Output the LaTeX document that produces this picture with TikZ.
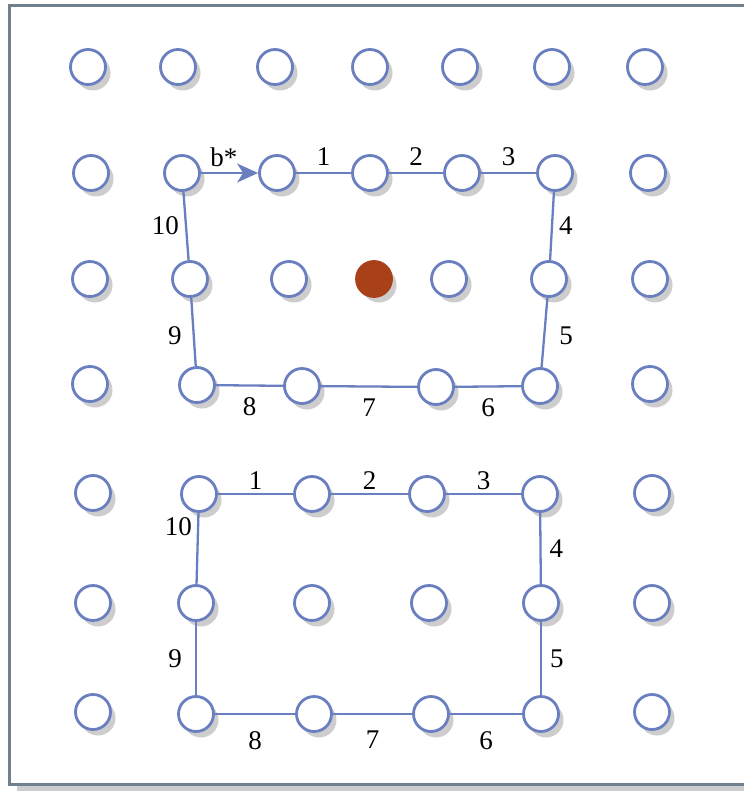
\documentclass[tikz,border=0pt]{standalone}
\usepackage{fontspec}
\setmainfont{Liberation Serif}
\usepackage{tikz}
\usetikzlibrary{arrows.meta, positioning, shadows}

\definecolor{dotblue}{RGB}{106,127,192}
\definecolor{dotred}{RGB}{168,64,24}
\definecolor{shadegray}{RGB}{205,205,205}
\definecolor{framegray}{RGB}{112,128,140}

\begin{document}
\begin{tikzpicture}[
    x=1pt, y=-1pt,
    dot/.style={circle, draw=dotblue, line width=2.8pt, fill=white, minimum size=35pt, inner sep=0pt,
        drop shadow={shadow xshift=5pt, shadow yshift=-6pt, fill=shadegray, opacity=1}},
    hotdot/.style={dot, draw=dotred, fill=dotred},
    link/.style={draw=dotblue, line width=2.3pt},
    lbl/.style={font=\fontsize{27}{31}\selectfont, inner sep=1pt}
]
\useasboundingbox (0,0) rectangle (743,791);
% frame
\fill[shadegray] (17,13) rectangle (775,800);
\draw[framegray, line width=3pt, fill=white] (9,5.5) rectangle (770,784);

% upper grid
\node[dot] (a1) at (88,67) {};
\node[dot] (a2) at (178,67) {};
\node[dot] (a3) at (275,67) {};
\node[dot] (a4) at (370,67) {};
\node[dot] (a5) at (460,67) {};
\node[dot] (a6) at (552,67) {};
\node[dot] (a7) at (645,67) {};
\node[dot] (b1) at (91,173) {};
\node[dot] (b2) at (182,173) {};
\node[dot] (b3) at (277,173) {};
\node[dot] (b4) at (370,173) {};
\node[dot] (b5) at (462,173) {};
\node[dot] (b6) at (555,173) {};
\node[dot] (b7) at (648,173) {};
\node[dot] (c1) at (90,279) {};
\node[dot] (c2) at (190,279) {};
\node[dot] (c3) at (289,279) {};
\node[hotdot] (c4) at (374,279) {};
\node[dot] (c5) at (449,279) {};
\node[dot] (c6) at (549,279) {};
\node[dot] (c7) at (650,279) {};
\node[dot] (d1) at (90,384) {};
\node[dot] (d2) at (197,385) {};
\node[dot] (d3) at (302,386) {};
\node[dot] (d4) at (436,387) {};
\node[dot] (d5) at (540,386) {};
\node[dot] (d6) at (650,384) {};

% lower grid
\node[dot] (e1) at (93,493) {};
\node[dot] (e2) at (199,494) {};
\node[dot] (e3) at (312,494) {};
\node[dot] (e4) at (427,494) {};
\node[dot] (e5) at (540,494) {};
\node[dot] (e6) at (652,493) {};
\node[dot] (f1) at (93,603) {};
\node[dot] (f2) at (196,603) {};
\node[dot] (f3) at (312,603) {};
\node[dot] (f4) at (429,603) {};
\node[dot] (f5) at (541,603) {};
\node[dot] (f6) at (652,603) {};
\node[dot] (g1) at (93,712) {};
\node[dot] (g2) at (196,714) {};
\node[dot] (g3) at (314,714) {};
\node[dot] (g4) at (431,714) {};
\node[dot] (g5) at (541,714) {};
\node[dot] (g6) at (652,712) {};

% upper loop
\draw[link, -{Stealth[length=21pt, width=19pt, inset=6pt]}] (b2) -- node[lbl, above=4pt, pos=0.4] (ub) {b*} (b3);
\draw[link] (b3) -- node[lbl, above=5pt] (u1) {1} (b4);
\draw[link] (b4) -- node[lbl, above=5pt] (u2) {2} (b5);
\draw[link] (b5) -- node[lbl, above=5pt] (u3) {3} (b6);
\draw[link] (b6) -- node[lbl, right=5pt] (u4) {4} (c6);
\draw[link] (c6) -- node[lbl, right=13pt, pos=0.55] (u5) {5} (d5);
\draw[link] (d5) -- node[lbl, below=10pt] (u6) {6} (d4);
\draw[link] (d4) -- node[lbl, below=10pt] (u7) {7} (d3);
\draw[link] (d3) -- node[lbl, below=10pt] (u8) {8} (d2);
\draw[link] (d2) -- node[lbl, left=10pt, pos=0.45] (u9) {9} (c2);
\draw[link] (c2) -- node[lbl, left=5pt] (u10) {10} (b2);

% lower loop
\draw[link] (e2) -- node[lbl, above=2pt] (v1) {1} (e3);
\draw[link] (e3) -- node[lbl, above=2pt] (v2) {2} (e4);
\draw[link] (e4) -- node[lbl, above=2pt] (v3) {3} (e5);
\draw[link] (e5) -- node[lbl, right=7pt] (v4) {4} (f5);
\draw[link] (f5) -- node[lbl, right=7pt] (v5) {5} (g5);
\draw[link] (g5) -- node[lbl, below=15pt] (v6) {6} (g4);
\draw[link] (g4) -- node[lbl, below=15pt] (v7) {7} (g3);
\draw[link] (g3) -- node[lbl, below=15pt] (v8) {8} (g2);
\draw[link] (g2) -- node[lbl, left=12pt] (v9) {9} (f2);
\draw[link] (f2) -- node[lbl, left=4pt, pos=0.8] (v10) {10} (e2);
\end{tikzpicture}
\end{document}
